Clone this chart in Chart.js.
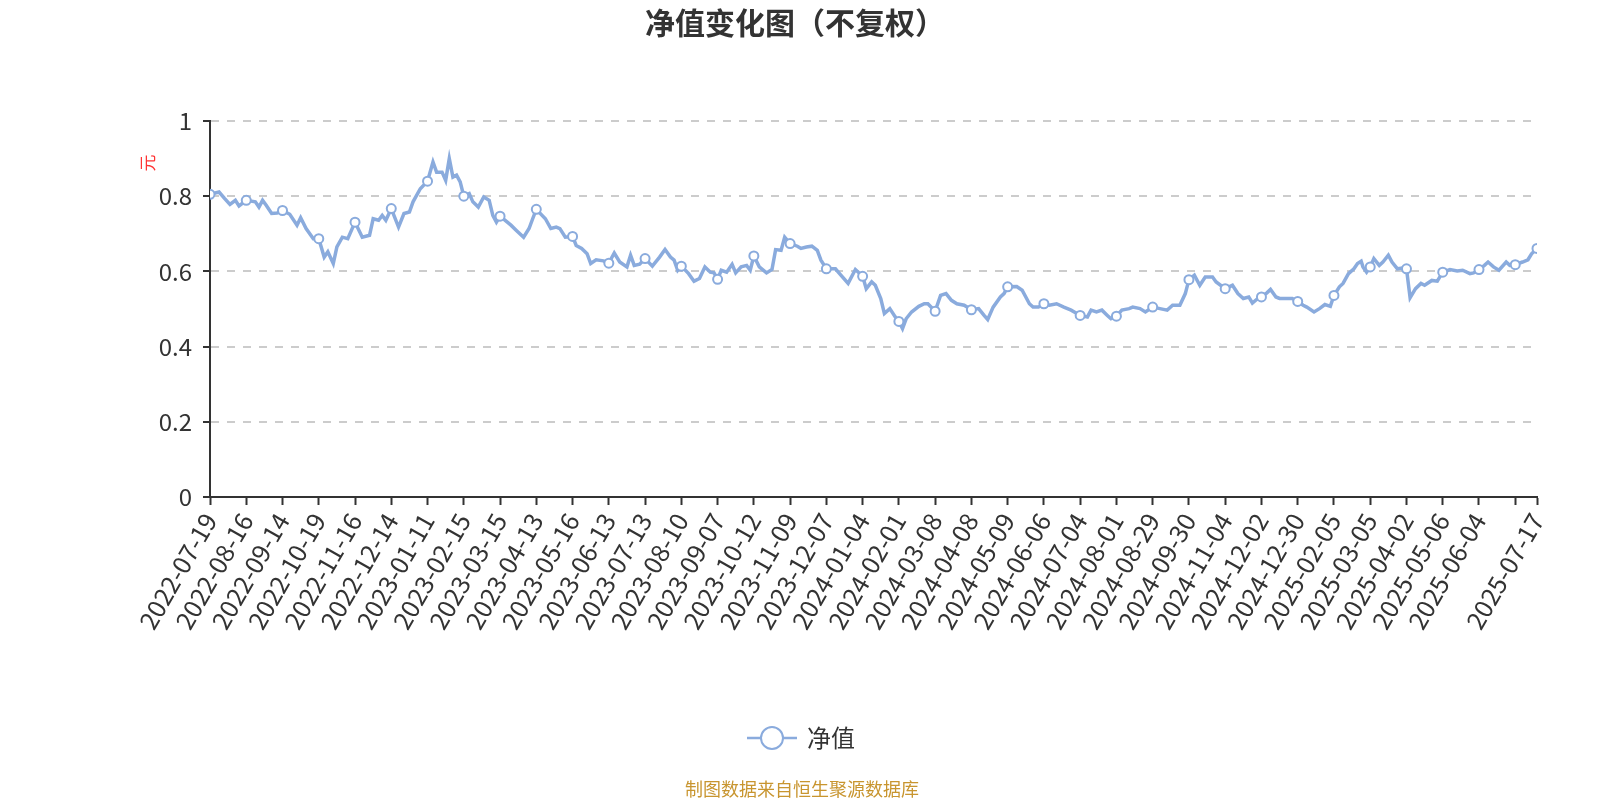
<!DOCTYPE html>
<html>
<head>
<meta charset="utf-8">
<script src="https://cdn.jsdelivr.net/npm/chart.js@4.4.1/dist/chart.umd.min.js"></script>
<style>
  body { margin: 0; background: #fff; }
  canvas { display: block; }
</style>
</head>
<body>
<canvas id="grafico" width="1600" height="800"></canvas>
<script>
// fechas del eje x (una cada 20 sesiones, la ultima es el cierre)
const fechas = ['2022-07-19','2022-08-16','2022-09-14','2022-10-19','2022-11-16','2022-12-14',
  '2023-01-11','2023-02-15','2023-03-15','2023-04-13','2023-05-16','2023-06-13','2023-07-13',
  '2023-08-10','2023-09-07','2023-10-12','2023-11-09','2023-12-07','2024-01-04','2024-02-01',
  '2024-03-08','2024-04-08','2024-05-09','2024-06-06','2024-07-04','2024-08-01','2024-08-29',
  '2024-09-30','2024-11-04','2024-12-02','2024-12-30','2025-02-05','2025-03-05','2025-04-02',
  '2025-05-06','2025-06-04','2025-07-17'];
const posFechas = [0,20,40,60,80,100,120,140,160,180,200,220,240,260,280,300,320,340,360,380,
  400,420,440,460,480,500,520,540,560,580,600,620,640,660,680,700,732];
const ultimoDia = 732;

// sesion (indice) y valor neto
const dias = [0,5,8,11,14,16,20,25,27,29,31,34,37,40,44,48,50,53,57,60,63,65,68,70,73,76,80,84,88,90,
  93,95,97,100,104,107,110,112,116,120,123,125,128,130,132,134,136,138,140,143,145,148,151,154,156,158,
  160,164,166,169,173,176,178,180,185,188,191,193,196,200,202,205,208,210,213,217,220,223,226,230,232,
  234,237,240,244,248,251,254,256,258,260,264,267,270,273,276,278,280,282,285,288,290,293,296,298,300,
  303,307,310,312,315,317,320,324,326,329,332,335,337,340,345,348,352,356,360,362,365,367,370,372,375,
  378,380,382,384,387,391,394,396,400,403,406,409,412,416,420,424,427,429,432,436,438,440,445,448,452,
  454,457,460,463,467,471,475,480,484,486,489,492,495,497,500,503,507,509,513,516,520,524,528,531,535,
  538,540,543,546,549,553,555,560,564,567,570,573,575,578,580,583,585,588,590,594,597,600,603,605,609,
  612,615,618,620,623,625,628,631,633,635,636,638,640,642,645,647,650,652,655,658,660,662,665,668,670,
  674,677,680,684,688,691,695,697,700,703,705,708,711,715,717,720,724,727,729,732];
const valores = [0.805,0.811,0.794,0.778,0.789,0.774,0.789,0.785,0.771,0.789,0.776,0.754,0.755,0.762,0.752,
  0.723,0.743,0.714,0.687,0.687,0.638,0.652,0.621,0.665,0.691,0.687,0.731,0.691,0.696,0.740,
  0.736,0.749,0.736,0.767,0.718,0.754,0.758,0.785,0.820,0.840,0.891,0.864,0.864,0.842,0.900,0.851,0.856,0.838,
  0.800,0.807,0.785,0.771,0.798,0.789,0.749,0.731,
  0.747,0.731,0.723,0.709,0.691,0.714,0.740,0.765,0.740,0.714,0.718,0.714,0.691,0.693,0.669,0.661,0.647,
  0.621,0.631,0.628,0.622,0.649,0.625,0.612,0.643,
  0.616,0.619,0.634,0.614,0.638,0.658,0.638,0.630,0.603,0.614,0.594,0.574,0.581,0.612,0.598,0.596,0.579,
  0.603,0.598,0.619,0.596,0.612,0.616,0.603,0.641,
  0.612,0.596,0.605,0.658,0.656,0.691,0.674,0.667,0.661,0.665,0.667,0.656,0.630,0.607,0.607,0.590,0.568,
  0.605,0.587,0.554,0.572,0.563,0.528,0.488,0.501,
  0.479,0.467,0.448,0.474,0.492,0.507,0.514,0.514,0.494,0.536,0.541,0.523,0.514,0.510,0.498,0.501,0.483,
  0.472,0.505,0.532,0.541,0.559,0.560,0.550,0.514,
  0.505,0.505,0.514,0.510,0.514,0.505,0.497,0.483,0.479,0.497,0.492,0.497,0.483,0.474,0.481,0.497,0.501,
  0.505,0.501,0.492,0.505,0.501,0.497,0.510,0.510,
  0.541,0.578,0.590,0.563,0.585,0.585,0.572,0.554,0.563,0.541,0.528,0.532,0.516,0.528,0.532,0.543,0.552,
  0.532,0.528,0.528,0.528,0.520,0.510,0.505,0.492,
  0.501,0.512,0.507,0.536,0.559,0.568,0.594,0.607,0.621,0.627,0.612,0.598,0.612,0.634,0.616,0.625,0.643,
  0.625,0.607,0.609,0.607,0.530,0.554,0.568,0.563,
  0.576,0.574,0.598,0.605,0.601,0.603,0.594,0.596,0.605,0.616,0.625,0.612,0.603,0.625,0.616,0.618,0.625,
  0.631,0.647,0.661];

const colorLinea = '#8aabdd';
const fuente = "'Microsoft YaHei', 'Noto Sans CJK SC', sans-serif";

// marcas del eje x: cada 20 sesiones mas la ultima
const marcas = [];
for (let i = 0; i <= ultimoDia; i += 20) marcas.push(i);
marcas.push(ultimoDia);

const puntos = dias.map((d, i) => ({x: d, y: valores[i]}));

const textos = {
  id: 'textos',
  afterDraw(chart){
    const {ctx} = chart;
    ctx.save();
    // titulo
    ctx.fillStyle = '#333';
    ctx.font = 'bold 30px ' + fuente;
    ctx.textAlign = 'center';
    ctx.textBaseline = 'middle';
    ctx.fillText('净值变化图（不复权）', 795, 23);

    // unidad del eje y
    ctx.save();
    ctx.translate(148, 163);
    ctx.rotate(-Math.PI / 2);
    ctx.fillStyle = '#f33';
    ctx.font = '17px ' + fuente;
    ctx.fillText('元', 0, 0);
    ctx.restore();

    // leyenda
    ctx.strokeStyle = colorLinea;
    ctx.lineWidth = 2.5;
    ctx.beginPath();
    ctx.moveTo(747, 738);
    ctx.lineTo(797, 738);
    ctx.stroke();
    ctx.beginPath();
    ctx.arc(772, 738, 11, 0, Math.PI * 2);
    ctx.fillStyle = '#fff';
    ctx.fill();
    ctx.lineWidth = 2;
    ctx.stroke();
    ctx.fillStyle = '#333';
    ctx.font = '24px ' + fuente;
    ctx.textAlign = 'left';
    ctx.fillText('净值', 807, 738);

    // fuente de datos
    ctx.fillStyle = '#c8952f';
    ctx.font = '18px ' + fuente;
    ctx.textAlign = 'center';
    ctx.fillText('制图数据来自恒生聚源数据库', 802, 789);
    ctx.restore();
  }
};

new Chart(document.getElementById('grafico'), {
  type: 'line',
  data: {
    datasets: [{
      label: '净值',
      data: puntos,
      borderColor: colorLinea,
      backgroundColor: '#fff',
      borderWidth: 3.5,
      tension: 0,
      pointRadius: (c) => marcas.includes(dias[c.dataIndex]) ? 4.5 : 0,
      pointBorderWidth: 2,
      pointBorderColor: colorLinea,
      pointBackgroundColor: '#fff'
    }]
  },
  options: {
    responsive: false,
    animation: false,
    devicePixelRatio: 1,
    layout: {padding: {top: 121, right: 63, left: 0, bottom: 0}},
    plugins: {
      legend: {display: false},
      title: {display: false},
      tooltip: {enabled: false}
    },
    scales: {
      x: {
        type: 'linear',
        min: 0,
        max: ultimoDia,
        afterFit(scale){ scale.height = 303; },
        afterBuildTicks(scale){ scale.ticks = marcas.map(v => ({value: v})); },
        grid: {drawOnChartArea: false, drawTicks: true, tickLength: 8, tickColor: '#333', tickWidth: 2},
        border: {color: '#333', width: 2},
        ticks: {
          autoSkip: false,
          maxRotation: 60,
          minRotation: 60,
          padding: 3,
          color: '#333',
          font: {size: 25, family: fuente},
          callback: (v) => {
            const k = posFechas.indexOf(v);
            return k >= 0 ? fechas[k] : '';
          }
        }
      },
      y: {
        min: 0,
        max: 1,
        afterFit(scale){ scale.width = 210; },
        grid: {color: '#ccc', lineWidth: 2, tickLength: 7, tickColor: '#333', tickWidth: 2},
        border: {color: '#333', width: 2, dash: [8, 8]},
        ticks: {
          stepSize: 0.2,
          padding: 11,
          color: '#333',
          font: {size: 24, family: fuente},
          callback: (v) => String(Math.round(v * 10) / 10)
        }
      }
    }
  },
  plugins: [textos]
});
</script>
</body>
</html>
